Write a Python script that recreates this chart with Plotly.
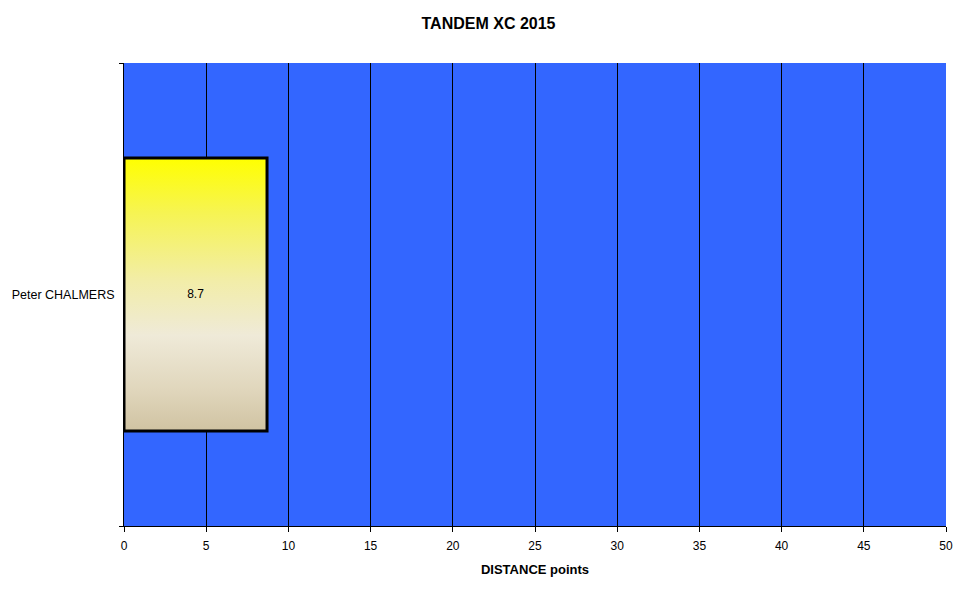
import plotly.graph_objects as go

title = "TANDEM XC 2015"
pilots = ["Peter CHALMERS"]
distance_points = [8.7]
x_title = "DISTANCE points"
x_ticks = [0, 5, 10, 15, 20, 25, 30, 35, 40, 45, 50]

BAR_W = 0.59
FONT = "Arial, Liberation Sans, sans-serif"

fig = go.Figure()

# bars drawn as filled shapes so that they can carry a vertical gradient
for i, v in enumerate(distance_points):
    y0, y1 = i - BAR_W / 2, i + BAR_W / 2
    fig.add_trace(go.Scatter(
        x=[0, v, v, 0, 0], y=[y0, y0, y1, y1, y0],
        mode="lines", fill="toself", line=dict(width=3, color="black"),
        fillgradient=dict(type="vertical", start=y0, stop=y1,
                          colorscale=[[0, "#D0C3A2"], [0.15, "#E0D6BC"],
                                      [0.35, "#EFEAD8"], [0.55, "#F2EDA8"],
                                      [0.8, "#F6F452"], [1, "#FFFF00"]]),
        hoverinfo="skip", showlegend=False))

fig.add_trace(go.Scatter(
    x=[v / 2 for v in distance_points], y=list(range(len(pilots))),
    mode="text", text=[f"{v:g}" for v in distance_points],
    textposition="middle center",
    textfont=dict(family=FONT, size=12, color="black"),
    hoverinfo="skip", showlegend=False))

fig.update_layout(
    width=961, height=584,
    paper_bgcolor="white", plot_bgcolor="#3366FF",
    margin=dict(l=116, r=23, t=55, b=66, autoexpand=False),
    title=dict(text=f"<b>{title}</b>", x=0.5, xanchor="center", y=0.973,
               yanchor="middle", font=dict(family=FONT, size=16, color="black")),
    font=dict(family=FONT, size=12, color="black"),
    xaxis=dict(range=[0, 50], tickvals=x_ticks, ticks="outside", ticklen=5,
               ticklabelstandoff=4, automargin=False,
               tickcolor="black", showgrid=True, gridcolor="black", gridwidth=1,
               showline=True, linecolor="black", linewidth=1, zeroline=False,
               title=dict(text=f"<b>{x_title}</b>", standoff=12,
                          font=dict(family=FONT, size=13, color="black"))),
    yaxis=dict(range=[-0.5, len(pilots) - 0.5], tickvals=list(range(len(pilots))),
               ticktext=pilots, ticks="", showgrid=False, zeroline=False,
               automargin=False, tickfont=dict(size=12.5),
               showline=True, linecolor="black", linewidth=1, ticklabelstandoff=6,
               minor=dict(tickvals=[-0.5 + k for k in range(len(pilots) + 1)],
                          ticks="outside", ticklen=4, tickcolor="black", showgrid=False)),
)

fig.write_html("out.html")
